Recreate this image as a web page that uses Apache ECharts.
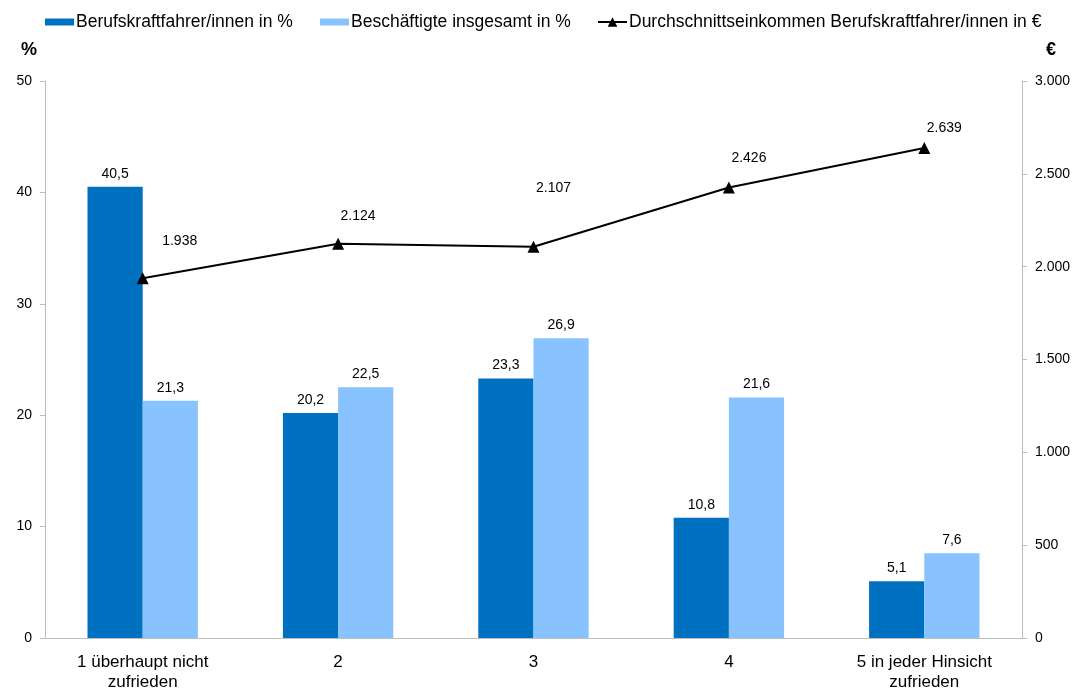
<!DOCTYPE html>
<html><head><meta charset="utf-8">
<script src="https://cdn.jsdelivr.net/npm/echarts@6/dist/echarts.min.js"></script>
<style>html,body{margin:0;padding:0;background:#fff}#c{width:1089px;height:689px}</style>
</head><body><div id="c"></div>
<script>
const categories = ['1 überhaupt nicht\nzufrieden', '2', '3', '4', '5 in jeder Hinsicht\nzufrieden'];
const fahrer = [40.5, 20.2, 23.3, 10.8, 5.1];
const gesamt = [21.3, 22.5, 26.9, 21.6, 7.6];
const einkommen = [1938, 2124, 2107, 2426, 2639];
const seriesNames = ['Berufskraftfahrer/innen in %', 'Beschäftigte insgesamt in %', 'Durchschnittseinkommen Berufskraftfahrer/innen in €'];

const fmtPct = v => v.toFixed(1).replace('.', ',');
const fmtEur = v => v.toLocaleString('de-DE');
const lineLabelOffsets = [[37, -10], [20, -1], [20, -32], [20, -2], [20, 7]];

const chart = echarts.init(document.getElementById('c'));
const font = 'Liberation Sans, Arial, sans-serif';
const legendText = { fontFamily: font, fontSize: 17.5, color: '#000', padding: [0, 0, 0, -3] };
const legendBase = { top: 8, itemWidth: 29, itemHeight: 7, textStyle: legendText, selectedMode: false };
chart.setOption({
  animation: false,
  textStyle: { fontFamily: font },
  legend: [
    Object.assign({}, legendBase, { left: 40, data: [{ name: seriesNames[0], icon: 'rect' }] }),
    Object.assign({}, legendBase, { left: 315, data: [{ name: seriesNames[1], icon: 'rect' }] }),
    Object.assign({}, legendBase, { left: 592, itemHeight: 12, data: [{ name: seriesNames[2] }] })
  ],
  grid: { left: 45, right: 67, top: 81, bottom: 51, containLabel: false, outerBoundsMode: 'none' },
  xAxis: {
    type: 'category', data: categories,
    axisLine: { lineStyle: { color: '#bdbdbd' } },
    axisTick: { lineStyle: { color: '#bdbdbd' }, length: 5 },
    axisLabel: { color: '#000', fontSize: 17, lineHeight: 20, margin: 14, interval: 0 }
  },
  yAxis: [
    {
      type: 'value', min: 0, max: 50, interval: 10,
      name: '%', nameLocation: 'end', nameGap: 22,
      nameTextStyle: { fontWeight: 'bold', fontSize: 18, color: '#000', align: 'right', padding: [0, 8, 0, 0] },
      splitLine: { show: false },
      axisLine: { show: true, lineStyle: { color: '#bdbdbd' } },
      axisTick: { show: true, lineStyle: { color: '#bdbdbd' }, length: 5 },
      axisLabel: { color: '#000', fontSize: 14, margin: 13 }
    },
    {
      type: 'value', min: 0, max: 3000, interval: 500,
      name: '€', nameLocation: 'end', nameGap: 22,
      nameTextStyle: { fontWeight: 'bold', fontSize: 18, color: '#000', align: 'left', padding: [0, 0, 0, 24] },
      splitLine: { show: false },
      axisLine: { show: true, lineStyle: { color: '#bdbdbd' } },
      axisTick: { show: true, lineStyle: { color: '#bdbdbd' }, length: 5 },
      axisLabel: { color: '#000', fontSize: 14, margin: 13, formatter: v => fmtEur(v) }
    }
  ],
  series: [
    {
      name: seriesNames[0], type: 'bar', data: fahrer, barGap: '0%', barCategoryGap: '43.5%',
      itemStyle: { color: '#0070C0' },
      label: { show: true, position: 'top', color: '#000', fontSize: 14, distance: 6, formatter: p => fmtPct(p.value) }
    },
    {
      name: seriesNames[1], type: 'bar', data: gesamt,
      itemStyle: { color: '#88C3FF' },
      label: { show: true, position: 'top', color: '#000', fontSize: 14, distance: 6, formatter: p => fmtPct(p.value) }
    },
    {
      name: seriesNames[2], type: 'line', yAxisIndex: 1,
      data: einkommen.map((v, i) => ({ value: v, label: { offset: lineLabelOffsets[i] } })),
      symbol: 'triangle', symbolSize: 12,
      lineStyle: { color: '#000', width: 2 },
      itemStyle: { color: '#000' },
      label: { show: true, position: 'top', color: '#000', fontSize: 14, distance: 14, formatter: p => fmtEur(p.value) }
    }
  ]
});
</script></body></html>
